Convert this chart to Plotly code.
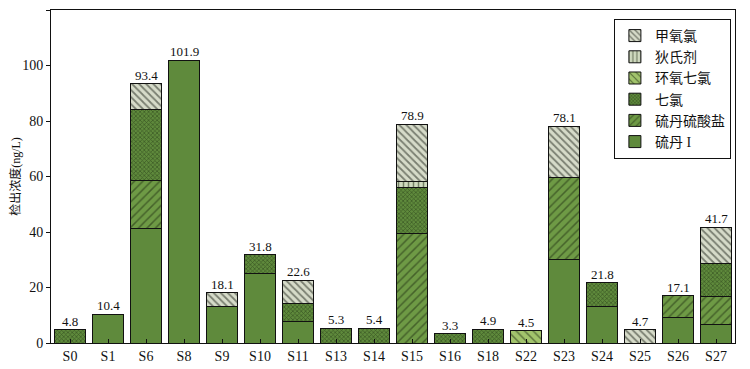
import plotly.graph_objects as go

sites = ["S0","S1","S6","S8","S9","S10","S11","S13","S14","S15","S16","S18","S22","S23","S24","S25","S26","S27"]
endosulfan_I   = [0, 10.4, 41.3, 101.9, 13.0, 25.0, 7.7, 0, 0, 0, 0, 0, 0, 30.1, 13.1, 0, 9.3, 6.8]
endo_sulfate   = [0, 0, 17.2, 0, 0, 0, 0, 0, 0, 39.6, 0, 0, 0, 29.4, 0, 0, 7.8, 9.9]
heptachlor     = [4.8, 0, 25.8, 0, 0, 6.8, 6.6, 5.3, 5.4, 16.3, 3.3, 4.9, 0, 0, 8.7, 0, 0, 12.1]
hept_epoxide   = [0, 0, 0, 0, 0, 0, 0, 0, 0, 0, 0, 0, 4.5, 0, 0, 0, 0, 0]
dieldrin       = [0, 0, 0, 0, 0, 0, 0, 0, 0, 2.3, 0, 0, 0, 0, 0, 0, 0, 0]
methoxychlor   = [0, 0, 9.1, 0, 5.1, 0, 8.3, 0, 0, 20.7, 0, 0, 0, 18.6, 0, 4.7, 0, 12.9]
totals         = [4.8, 10.4, 93.4, 101.9, 18.1, 31.8, 22.6, 5.3, 5.4, 78.9, 3.3, 4.9, 4.5, 78.1, 21.8, 4.7, 17.1, 41.7]

series = [
    ("硫丹 I", endosulfan_I, dict(color="#5f8a3c")),
    ("硫丹硫酸盐", endo_sulfate, dict(color="#6e9a45", pattern=dict(shape="/", fgcolor="#1c2a10", bgcolor="#6e9a45", size=6, solidity=0.25))),
    ("七氯", heptachlor, dict(color="#4f7a2e", pattern=dict(shape="x", fgcolor="#16240c", bgcolor="#5f8a3c", size=3, solidity=0.4))),
    ("环氧七氯", hept_epoxide, dict(color="#a2c46c", pattern=dict(shape="\\", fgcolor="#1c2a10", bgcolor="#a2c46c", size=6, solidity=0.25))),
    ("狄氏剂", dieldrin, dict(color="#cfd9bf", pattern=dict(shape="|", fgcolor="#1c2a10", bgcolor="#cfd9bf", size=5, solidity=0.3))),
    ("甲氧氯", methoxychlor, dict(color="#d6dbc9", pattern=dict(shape="\\", fgcolor="#1c2218", bgcolor="#d6dbc9", size=5, solidity=0.35))),
]

fig = go.Figure()
for name, vals, marker in series:
    marker = dict(marker)
    marker["line"] = dict(color="#111111", width=1)
    fig.add_trace(go.Bar(x=sites, y=vals, name=name, marker=marker, width=0.79))

for s, t in zip(sites, totals):
    fig.add_annotation(x=s, y=t, text=f"{t}", showarrow=False, yanchor="bottom", yshift=-1,
                       font=dict(size=13, color="#111111"))

font_fam = "Liberation Serif, Noto Sans CJK SC, serif"
# page body has an 8px default margin, so the figure is sized 742x361
fig.update_layout(
    barmode="stack",
    width=742, height=361,
    margin=dict(l=43, r=15, t=2, b=26, autoexpand=False),
    plot_bgcolor="white", paper_bgcolor="white",
    font=dict(family=font_fam, size=13, color="#111111"),
    showlegend=True,
    legend=dict(x=0.994, y=0.973, xanchor="right", yanchor="top", traceorder="reversed",
                bordercolor="#111111", borderwidth=1, bgcolor="white",
                font=dict(size=14), tracegroupgap=0),
    bargap=0.21,
)
fig.update_xaxes(showline=True, linecolor="#111111", linewidth=1, mirror=True, automargin=False,
                 ticks="inside", ticklen=4, tickcolor="#111111",
                 tickfont=dict(size=14))
fig.update_yaxes(range=[0, 120], dtick=20, showline=True, linecolor="#111111", linewidth=1, mirror=True,
                 automargin=False,
                 ticks="outside", ticklen=4, tickcolor="#111111", showgrid=False, zeroline=False,
                 tickfont=dict(size=14),
                 title=dict(text="检出浓度(ng/L)", font=dict(size=12), standoff=4))

fig.write_html("out.html")
